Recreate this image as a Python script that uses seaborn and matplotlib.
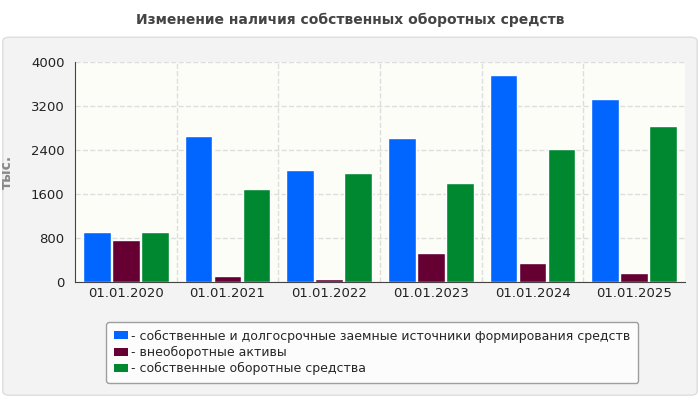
import matplotlib
matplotlib.use("Agg")
import matplotlib.pyplot as plt
from matplotlib.patches import FancyBboxPatch
import seaborn as sns
import pandas as pd

dates = ['01.01.2020', '01.01.2021', '01.01.2022', '01.01.2023', '01.01.2024', '01.01.2025']
series_names = ['собственные и долгосрочные заемные источники формирования средств',
                'внеоборотные активы',
                'собственные оборотные средства']
own_longterm = [910, 2655, 2036, 2618, 3764, 3327]
noncurrent = [764, 109, 55, 527, 345, 170]
working = [910, 1691, 1982, 1800, 2418, 2836]
colors = ['#0066ff', '#660033', '#008830']

rows = []
for name, vals in zip(series_names, [own_longterm, noncurrent, working]):
    for d, v in zip(dates, vals):
        rows.append({'date': d, 'series': name, 'value': v})
df = pd.DataFrame(rows)

sns.set_style('white')
plt.rcParams['font.family'] = ['DejaVu Sans']

fig = plt.figure(figsize=(7, 4), dpi=100)
fig.patch.set_facecolor('white')
panel = FancyBboxPatch((0.004, 0.012), 0.992, 0.895, boxstyle='round,pad=0,rounding_size=0.01',
                       transform=fig.transFigure, facecolor='#f3f3f3', edgecolor='#dddddd', zorder=-10)
fig.patches.append(panel)
fig.text(0.5, 0.95, 'Изменение наличия собственных оборотных средств', ha='center', va='center',
         fontsize=10, fontweight='bold', color='#444444')

ax = fig.add_axes([75/700, 1-282/400, 610/700, 220/400])
ax.set_facecolor('#fdfdf8')
sns.barplot(data=df, x='date', y='value', hue='series', palette=colors, ax=ax,
            width=0.86, gap=0.05, saturation=1, legend=False)
ax.set_ylim(0, 4000)
ax.set_yticks([0, 800, 1600, 2400, 3200, 4000])
ax.set_xlim(-0.5, 5.5)
for x in [0.5, 1.5, 2.5, 3.5, 4.5]:
    ax.axvline(x, color='#dddddd', ls='--', lw=1, zorder=0)
ax.yaxis.grid(True, color='#dddddd', ls='--', lw=1)
ax.set_axisbelow(True)
ax.set_xlabel('')
ax.set_ylabel('тыс.', fontsize=10, fontweight='bold', color='#888888', labelpad=12)
ax.tick_params(labelsize=9.5, colors='#222222', length=4)
ax.tick_params(axis='x', direction='out', bottom=True)
for s in ['top', 'right']:
    ax.spines[s].set_visible(False)
ax.spines['left'].set_color('#444444')
ax.spines['bottom'].set_color('#444444')
ax.set_xticks([0.5, 1.5, 2.5, 3.5, 4.5], minor=True)
ax.tick_params(axis='x', which='major', length=0)
ax.tick_params(axis='x', which='minor', length=4, color='#444444')

from matplotlib.patches import Patch
handles = [Patch(facecolor=c, edgecolor='none') for c in colors]
leg = fig.legend(handles, ['- ' + s for s in series_names], loc='upper left',
                 bbox_to_anchor=(100/700, 1-316/400), frameon=True, fontsize=9,
                 handlelength=1.1, handleheight=0.6, handletextpad=0.3, labelspacing=0.25,
                 borderpad=0.6, fancybox=True)
leg.get_frame().set_edgecolor('#888888')
leg.get_frame().set_facecolor('white')

fig.savefig('out.png', dpi=100)
